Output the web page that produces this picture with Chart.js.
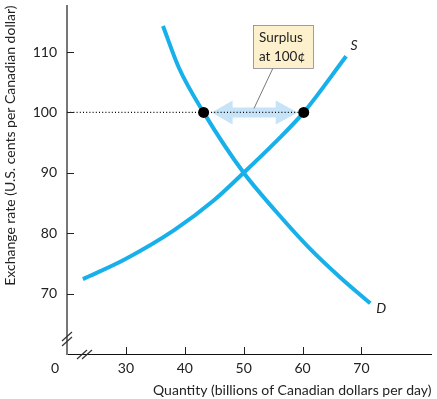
<!DOCTYPE html>
<html>
<head>
<meta charset="utf-8">
<script src="https://cdn.jsdelivr.net/npm/chart.js@4.4.1/dist/chart.umd.min.js"></script>
<style>
  body { margin:0; background:#fff; }
  #wrap { width:437px; height:399px; }
</style>
</head>
<body>
<div id="wrap"><canvas id="c"></canvas></div>
<script>
// data
const demandX = [36.3, 39, 43.2, 50, 55.5, 61.2, 66.5, 71.5];
const demandY = [114.3, 107.4, 100, 90, 83.6, 77.5, 72.6, 68.4];
const supplyX = [22.7, 29.7, 38.2, 44.9, 50, 55.3, 60.2, 67.4];
const supplyY = [72.4, 75.6, 80.5, 85.4, 90, 95.0, 100, 109.3];
const pointsX = [43.2, 60.2];   // quantity demanded / supplied at 100 cents
const pointsY = [100, 100];
const priceLine = 100;
const xTicks = [30, 40, 50, 60, 70];
const yTicks = [70, 80, 90, 100, 110];

const blue = '#18b0ea';
const font = 'Lato';

let toXY = (xs, ys) => xs.map((x, i) => ({x: x, y: ys[i]}));

// everything that is not a dataset
const extras = {
  id: 'extras',
  beforeDatasetsDraw(chart) {
    const {ctx, scales: {x, y}} = chart;
    // surplus arrow
    let x1 = x.getPixelForValue(pointsX[0]) + 8;
    let x2 = x.getPixelForValue(pointsX[1]) - 6;
    let py = y.getPixelForValue(priceLine);
    ctx.save();
    ctx.fillStyle = '#c6e3f8';
    ctx.beginPath();
    ctx.moveTo(x1, py);
    ctx.lineTo(x1 + 21, py - 12);
    ctx.lineTo(x1 + 21, py - 5);
    ctx.lineTo(x2 - 22, py - 5);
    ctx.lineTo(x2 - 22, py - 12);
    ctx.lineTo(x2, py);
    ctx.lineTo(x2 - 22, py + 12);
    ctx.lineTo(x2 - 22, py + 5);
    ctx.lineTo(x1 + 21, py + 5);
    ctx.lineTo(x1 + 21, py + 12);
    ctx.closePath();
    ctx.fill();
    ctx.restore();
  },
  afterDraw(chart) {
    const {ctx, chartArea: a, scales: {x, y}} = chart;
    ctx.save();
    // tick marks (inside)
    ctx.strokeStyle = '#222';
    ctx.lineWidth = 1;
    xTicks.forEach(v => {
      let px = Math.round(x.getPixelForValue(v)) + 0.5;
      ctx.beginPath(); ctx.moveTo(px, a.bottom); ctx.lineTo(px, a.bottom - 7); ctx.stroke();
    });
    yTicks.forEach(v => {
      let py = Math.round(y.getPixelForValue(v)) + 0.5;
      ctx.beginPath(); ctx.moveTo(a.left, py); ctx.lineTo(a.left + 7, py); ctx.stroke();
    });
    // axis breaks
    ctx.strokeStyle = '#333';
    ctx.lineWidth = 1.2;
    [[-5, -8], [-5, -13]].forEach(d => {
      ctx.beginPath();
      ctx.moveTo(a.left + d[0], a.bottom + d[1]);
      ctx.lineTo(a.left + d[0] + 10, a.bottom + d[1] - 9);
      ctx.stroke();
    });
    [10, 15].forEach(d => {
      ctx.beginPath();
      ctx.moveTo(a.left + d, a.bottom + 5);
      ctx.lineTo(a.left + d + 10, a.bottom - 4);
      ctx.stroke();
    });
    // origin
    ctx.fillStyle = '#222';
    ctx.font = '14px ' + font;
    ctx.textAlign = 'center';
    ctx.textBaseline = 'middle';
    ctx.fillText('0', a.left - 12, a.bottom + 14);
    // curve labels
    ctx.font = 'italic 14px ' + font;
    ctx.fillText('S', x.getPixelForValue(supplyX[supplyX.length - 1]) + 8, y.getPixelForValue(supplyY[supplyY.length - 1]) - 11);
    ctx.fillText('D', x.getPixelForValue(demandX[demandX.length - 1]) + 11, y.getPixelForValue(demandY[demandY.length - 1]) + 5);
    // callout
    let bx = 253, by = 25, bw = 60, bh = 43;
    ctx.strokeStyle = '#555';
    ctx.lineWidth = 0.8;
    ctx.beginPath();
    ctx.moveTo(273, by + bh);
    ctx.lineTo(254, y.getPixelForValue(priceLine) - 4);
    ctx.stroke();
    ctx.fillStyle = '#fdf0cc';
    ctx.fillRect(bx, by, bw, bh);
    ctx.strokeStyle = '#888';
    ctx.strokeRect(bx + 0.5, by + 0.5, bw, bh);
    ctx.fillStyle = '#222';
    ctx.font = '13.5px ' + font;
    ctx.textAlign = 'left';
    ctx.fillText('Surplus', bx + 6, by + 13);
    ctx.fillText('at 100¢', bx + 6, by + 32);
    ctx.restore();
  }
};

new Chart(document.getElementById('c'), {
  type: 'scatter',
  data: {
    datasets: [
      {
        label: 'points',
        data: toXY(pointsX, pointsY),
        pointRadius: 5.5,
        pointBackgroundColor: '#000',
        pointBorderWidth: 0,
        showLine: false,
        order: 0
      },
      {
        label: 'D',
        data: toXY(demandX, demandY),
        showLine: true,
        borderColor: blue,
        borderWidth: 4,
        pointRadius: 0,
        cubicInterpolationMode: 'monotone',
        order: 1
      },
      {
        label: 'S',
        data: toXY(supplyX, supplyY),
        showLine: true,
        borderColor: blue,
        borderWidth: 4,
        pointRadius: 0,
        cubicInterpolationMode: 'monotone',
        order: 1
      },
      {
        label: 'price',
        data: [{x: 20, y: priceLine}, {x: pointsX[1], y: priceLine}],
        showLine: true,
        borderColor: '#000',
        borderWidth: 1.2,
        borderDash: [1, 2.2],
        pointRadius: 0,
        order: 2
      }
    ]
  },
  options: {
    responsive: true,
    maintainAspectRatio: false,
    animation: false,
    layout: { padding: { top: 3, right: 2, left: 0, bottom: 0 } },
    plugins: { legend: { display: false }, tooltip: { enabled: false } },
    scales: {
      x: {
        type: 'linear',
        min: 20,
        max: 81.9,
        afterFit: s => { s.height = 45; s.paddingLeft = 0; s.paddingRight = 0; },
        afterBuildTicks: s => { s.ticks = xTicks.map(v => ({value: v})); },
        grid: { display: false, drawTicks: false },
        border: { color: '#111', width: 1 },
        ticks: { padding: 6, color: '#222', font: { family: font, size: 14 } },
        title: {
          display: true,
          text: 'Quantity (billions of Canadian dollars per day)',
          align: 'end',
          color: '#222',
          font: { family: font, size: 14 },
          padding: { top: 4, bottom: 0 }
        }
      },
      y: {
        type: 'linear',
        min: 60,
        max: 117.7,
        afterFit: s => { s.width = 67; s.paddingTop = 0; s.paddingBottom = 0; },
        afterBuildTicks: s => { s.ticks = yTicks.map(v => ({value: v})); },
        grid: { display: false, drawTicks: false },
        border: { color: '#777', width: 2 },
        ticks: { padding: 10, color: '#222', font: { family: font, size: 14 } },
        title: {
          display: true,
          text: 'Exchange rate (U.S. cents per Canadian dollar)',
          align: 'end',
          color: '#222',
          font: { family: font, size: 14 },
          padding: { bottom: 0, top: 2 }
        }
      }
    }
  },
  plugins: [extras]
});
</script>
</body>
</html>
